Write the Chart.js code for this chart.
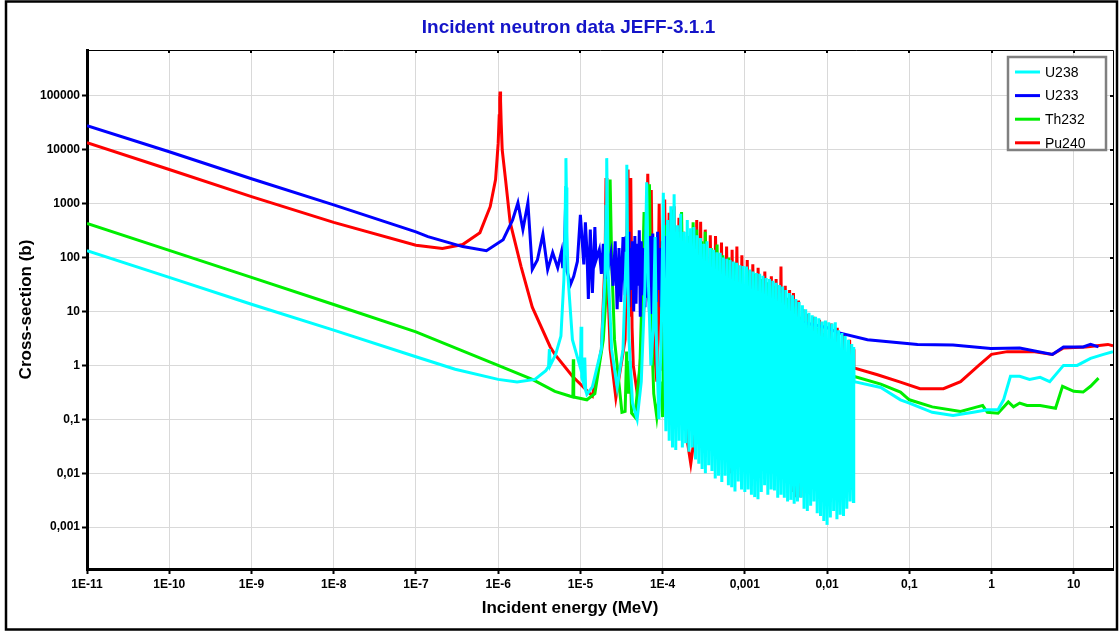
<!DOCTYPE html>
<html>
<head>
<meta charset="utf-8">
<script src="https://cdn.jsdelivr.net/npm/chart.js@4"></script>
<style>
  html, body { margin: 0; background: #fff; }
  #wrap { width: 1120px; height: 633px; position: relative; }
</style>
</head>
<body>
<div id="wrap"><canvas id="xs"></canvas></div>
<script>
// energies in MeV, cross-sections in barns
const seriesNames = ['U238', 'U233', 'Th232', 'Pu240'];

const u238Energy = [1e-11,1e-10,1e-9,1e-8,1e-7,3e-7,1e-6,1.7e-6,2.8e-6,3.8e-6,4.1e-6,4.2e-6,4.3e-6,5e-6,5.8e-6,6.3e-6,6.5e-6,6.6e-6,6.67e-6,6.75e-6,6.85e-6,7.1e-6,8e-6,
  1e-5,1.02e-5,1.04e-5,1.1e-5,1.13e-5,1.16e-5,1.2e-5,1.4e-5,1.8e-5,2.0e-5,2.05e-5,2.09e-5,2.13e-5,2.18e-5,2.4e-5,2.8e-5,3.3e-5,3.6e-5,3.67e-5,3.75e-5,3.9e-5,4.3e-5,4.9e-5,5.5e-5,6.1e-5,6.4e-5,6.7e-5,7.2e-5,7.7e-5,8.1e-5,8.4e-5,9.0e-5,9.6e-5,1.02e-4,1.06e-4,
  1.096e-4,1.148e-4,1.202e-4,1.259e-4,1.318e-4,1.380e-4,1.445e-4,1.514e-4,1.585e-4,1.660e-4,1.738e-4,1.820e-4,1.905e-4,1.995e-4,2.089e-4,2.188e-4,2.291e-4,2.399e-4,2.512e-4,2.630e-4,
  2.754e-4,2.884e-4,3.020e-4,3.162e-4,3.311e-4,3.467e-4,3.631e-4,3.802e-4,3.981e-4,4.169e-4,4.365e-4,4.571e-4,4.786e-4,5.012e-4,5.248e-4,5.495e-4,5.754e-4,6.026e-4,6.310e-4,6.607e-4,
  6.918e-4,7.244e-4,7.586e-4,7.943e-4,8.318e-4,8.710e-4,9.120e-4,9.550e-4,1.000e-3,1.047e-3,1.096e-3,1.148e-3,1.202e-3,1.259e-3,1.318e-3,1.380e-3,1.445e-3,1.514e-3,1.585e-3,1.660e-3,
  1.738e-3,1.820e-3,1.905e-3,1.995e-3,2.089e-3,2.188e-3,2.291e-3,2.399e-3,2.512e-3,2.630e-3,2.754e-3,2.884e-3,3.020e-3,3.162e-3,3.311e-3,3.467e-3,3.631e-3,3.802e-3,3.981e-3,4.169e-3,
  4.365e-3,4.571e-3,4.786e-3,5.012e-3,5.248e-3,5.495e-3,5.754e-3,6.026e-3,6.310e-3,6.607e-3,6.918e-3,7.244e-3,7.586e-3,7.943e-3,8.318e-3,8.710e-3,9.120e-3,9.550e-3,1.000e-2,1.047e-2,
  1.096e-2,1.148e-2,1.202e-2,1.259e-2,1.318e-2,1.380e-2,1.445e-2,1.514e-2,1.585e-2,1.660e-2,1.738e-2,1.820e-2,1.905e-2,1.995e-2,2.089e-2,2.11e-2,2.13e-2,
  4.5e-2,7.8e-2,0.1,0.19,0.34,0.6,0.89,1.2,1.4,1.7,2.2,2.9,3.9,5.1,7.5,11,16,23,30];
const u238Xs = [135,43,13.6,4.5,1.45,0.85,0.55,0.49,0.55,0.8,0.95,2.0,1.0,1.6,3.5,39,300,2000,7000,2000,300,40,3,
  0.9,5.2,0.6,0.45,1.4,0.35,0.29,0.4,2,50,900,7000,900,50,2,0.39,2,120,5300,100,3,0.2,0.1,0.5,30,2500,40,1,5,240,3,0.1,3,1600,2,
  0.06,500,0.04,900,0.03,1500,0.027,400,0.04,650,0.03,300,0.036,500,0.025,350,0.03,370,0.018,260,
  0.015,230,0.012,180,0.01,200,0.014,150,0.011,140,0.008,125,0.009,123,0.0069,100,0.009,95,0.006,90,
  0.0055,85,0.0046,80,0.007,72,0.005,70,0.0045,68,0.005,60,0.004,55,0.0036,52,0.0033,50,0.0045,46,
  0.006,42,0.004,40,0.005,37,0.0048,34,0.0035,31,0.004,29,0.0035,25,0.003,22,0.0032,20,0.0027,17,
  0.003,15,0.0035,13,0.0022,11,0.002,9.5,0.0025,8.5,0.003,8,0.0018,7.5,0.0016,6.5,0.0013,6.8,0.0011,6.3,
  0.0015,6,0.002,6.3,0.0014,4.5,0.0017,4,0.0016,3.5,0.0022,3,0.003,2.5,0.003,2.2,0.5,
  0.39,0.23,0.2,0.135,0.118,0.135,0.15,0.15,0.23,0.63,0.63,0.55,0.6,0.5,1.0,1.0,1.35,1.6,1.8];

const u233Energy = [1e-11,1e-10,1e-9,1e-8,1e-7,1.4e-7,3.7e-7,7.2e-7,1.15e-6,1.5e-6,1.74e-6,2.0e-6,2.3e-6,2.6e-6,3.0e-6,3.5e-6,4.0e-6,4.6e-6,5.3e-6,5.9e-6,6.1e-6,6.4e-6,6.6e-6,6.9e-6,7.6e-6,8.3e-6,9.2e-6,
  1.0e-5,1.1e-5,1.15e-5,1.2e-5,1.25e-5,1.32e-5,1.4e-5,1.5e-5,1.55e-5,1.7e-5,1.8e-5,1.9e-5,2.0e-5,2.1e-5,2.2e-5,2.35e-5,2.5e-5,2.65e-5,2.8e-5,2.95e-5,3.1e-5,3.3e-5,
  3.5e-5,3.6e-5,3.7e-5,3.8e-5,3.9e-5,4.0e-5,4.15e-5,4.3e-5,4.45e-5,4.6e-5,4.75e-5,4.9e-5,5.05e-5,5.2e-5,5.35e-5,5.5e-5,5.7e-5,5.9e-5,6.1e-5,6.3e-5,6.5e-5,6.7e-5,6.9e-5,7.1e-5,7.35e-5,7.6e-5,7.85e-5,
  8.1e-5,8.4e-5,8.7e-5,9.0e-5,9.3e-5,9.6e-5,9.9e-5,1.02e-4,1.06e-4,1.1e-4,1.14e-4,1.18e-4,1.22e-4,1.26e-4,1.3e-4,1.35e-4,1.4e-4,1.46e-4,
  1.6e-4,2.5e-4,3.3e-4,1e-3,3e-3,0.01,0.0133,0.031,0.126,0.34,0.98,2.2,5.5,7.5,13,16,20];
const u233Xs = [28000,9200,2900,950,300,245,160,134,215,500,1040,330,1040,60,90,270,60,124,65,130,64,130,900,55,32,45,85,
  620,75,450,140,17,330,22,370,90,140,50,180,40,180,70,120,30,200,11,150,15,240,
  20,250,30,300,12,150,25,200,10,250,14,180,30,320,8,200,20,150,12,330,18,200,10,250,9,280,20,
  180,15,300,25,150,12,200,30,250,10,150,25,180,20,120,25,100,25,
  28,23,17,11,7.5,5,4.1,3.0,2.45,2.4,2.05,2.1,1.6,2.2,2.2,2.45,2.2];

const th232Energy = [1e-11,1e-10,1e-9,1e-8,1e-7,1e-6,2.6e-6,4.9e-6,7.4e-6,8.1e-6,8.2e-6,8.3e-6,1.2e-5,1.5e-5,1.9e-5,2.2e-5,2.3e-5,2.4e-5,2.6e-5,3.2e-5,3.5e-5,3.65e-5,3.8e-5,4.0e-5,4.2e-5,4.6e-5,5.3e-5,5.7e-5,5.95e-5,6.2e-5,6.6e-5,6.92e-5,7.2e-5,7.8e-5,8.5e-5,9.5e-5,
  1.0e-4,1.08e-4,1.16e-4,1.3e-4,1.42e-4,1.55e-4,1.62e-4,1.7e-4,1.85e-4,2.0e-4,2.15e-4,2.35e-4,2.5e-4,2.6e-4,2.8e-4,3.0e-4,3.15e-4,3.3e-4,3.6e-4,3.9e-4,4.2e-4,4.6e-4,5.0e-4,5.4e-4,5.9e-4,6.4e-4,7.0e-4,7.6e-4,8.3e-4,9.0e-4,9.8e-4,
  1.07e-3,1.17e-3,1.28e-3,1.4e-3,1.55e-3,1.7e-3,1.85e-3,2.0e-3,2.2e-3,2.45e-3,2.7e-3,3.0e-3,3.3e-3,3.6e-3,4.0e-3,4.4e-3,4.9e-3,5.4e-3,6.0e-3,6.7e-3,7.5e-3,8.4e-3,9.4e-3,
  1.05e-2,1.18e-2,1.3e-2,1.45e-2,1.6e-2,1.8e-2,2.0e-2,2.1e-2,4.5e-2,7.8e-2,0.1,0.19,0.42,0.67,0.78,0.89,1.2,1.6,1.85,2.2,2.7,3.9,6,7.3,10,13,16,20];
const th232Xs = [430,136,43,13.5,4.2,1.0,0.55,0.33,0.27,0.26,1.3,0.26,0.23,0.3,3,120,2800,90,3,0.135,0.14,1.8,0.3,1.2,0.13,0.11,1,50,700,30,20,2300,10,0.3,0.11,0.5,
  0.11,400,0.15,770,0.12,300,0.2,700,0.1,250,0.08,450,0.06,330,0.05,200,0.04,300,0.03,150,0.03,175,0.02,110,0.02,100,0.015,80,0.02,60,0.015,
  55,0.015,50,0.012,40,0.012,35,0.01,30,0.01,22,0.01,18,0.008,12,0.008,8,0.008,6,0.007,5,0.007,4,
  0.006,3,0.01,2,0.02,1.2,0.2,0.63,0.45,0.32,0.23,0.17,0.14,0.17,0.18,0.135,0.13,0.21,0.17,0.2,0.18,0.18,0.16,0.41,0.33,0.32,0.41,0.58];

const pu240Energy = [1e-11,1e-10,1e-9,1e-8,1e-7,2.1e-7,3.7e-7,6e-7,8e-7,9.3e-7,1.0e-6,1.03e-6,1.045e-6,1.056e-6,1.07e-6,1.09e-6,1.12e-6,1.23e-6,1.4e-6,1.9e-6,2.6e-6,4.3e-6,4.9e-6,8e-6,1.4e-5,1.8e-5,2.0e-5,2.05e-5,2.1e-5,2.3e-5,2.7e-5,3.5e-5,3.8e-5,3.95e-5,4.1e-5,4.25e-5,4.4e-5,5e-5,6.3e-5,6.6e-5,6.9e-5,7.1e-5,7.28e-5,7.6e-5,8.5e-5,9.08e-5,9.5e-5,
  1.0e-4,1.06e-4,1.12e-4,1.2e-4,1.28e-4,1.38e-4,1.48e-4,1.58e-4,1.7e-4,1.8e-4,1.95e-4,2.2e-4,2.45e-4,2.6e-4,2.75e-4,2.9e-4,3.1e-4,3.3e-4,3.55e-4,3.8e-4,4.1e-4,4.4e-4,4.8e-4,5.2e-4,5.6e-4,6.0e-4,6.6e-4,7.0e-4,7.5e-4,8.0e-4,8.6e-4,9.2e-4,
  1.0e-3,1.07e-3,1.15e-3,1.25e-3,1.35e-3,1.45e-3,1.6e-3,1.75e-3,1.9e-3,2.1e-3,2.25e-3,2.4e-3,2.6e-3,2.75e-3,2.9e-3,3.1e-3,3.3e-3,3.5e-3,3.7e-3,3.9e-3,4.2e-3,4.5e-3,4.8e-3,5.1e-3,5.5e-3,5.9e-3,6.4e-3,6.9e-3,7.5e-3,8.1e-3,8.8e-3,9.5e-3,
  1.03e-2,1.12e-2,1.22e-2,1.33e-2,1.45e-2,1.58e-2,1.72e-2,1.88e-2,2.0e-2,2.08e-2,2.12e-2,4.1e-2,7.8e-2,0.135,0.26,0.42,0.7,1.0,1.55,3.2,5.5,7.5,14,26,30];
const pu240Xs = [13500,4300,1350,450,170,147,175,290,880,2800,13000,43000,91000,120000,80000,30000,10000,2800,450,68,12,2.2,1.6,0.63,0.27,2,100,3000,100,2,0.25,3,4300,8,3000,5,1,0.25,50,3600,30,20,1800,5,0.5,1000,3,
  0.8,1200,0.5,680,0.4,900,0.3,550,0.2,300,0.05,0.015,0.05,500,0.1,460,0.03,330,0.05,260,0.03,250,0.04,190,0.02,160,0.01,140,0.03,160,0.02,110,
  0.02,90,0.015,75,0.02,65,0.015,55,0.012,45,0.01,40,0.012,68,0.009,30,0.0075,25,0.0045,22,0.0036,16,0.0036,11,0.005,9,0.006,8,0.005,7,0.004,6.5,
  0.005,6,0.006,5,0.006,4,0.005,3,0.005,2,0.9,0.67,0.49,0.37,0.37,0.5,1.0,1.6,1.8,1.8,1.6,2.1,2.2,2.45,2.3];

const xTickValues = [1e-11,1e-10,1e-9,1e-8,1e-7,1e-6,1e-5,1e-4,1e-3,1e-2,1e-1,1,10];
const xTickLabels = ['1E-11','1E-10','1E-9','1E-8','1E-7','1E-6','1E-5','1E-4','0,001','0,01','0,1','1','10'];
const yTickValues = [1e-3,1e-2,1e-1,1,10,100,1000,10000,100000];
const yTickLabels = ['0,001','0,01','0,1','1','10','100','1000','10000','100000'];

const colors = ['#00ffff', '#0000ff', '#00ee00', '#ff0000'];
const FONT = '"Liberation Sans", Arial, sans-serif';

function pts(e, s) {
  return e.map((x, i) => ({x: x, y: s[i]}));
}
const seriesData = [pts(u238Energy, u238Xs), pts(u233Energy, u233Xs), pts(th232Energy, th232Xs), pts(pu240Energy, pu240Xs)];

// frame, top/right ticks, x title and legend box
const decor = {
  id: 'decor',
  afterDraw(chart) {
    const ctx = chart.ctx;
    const a = chart.chartArea;
    const xs = chart.scales.x, ys = chart.scales.y;
    ctx.save();
    ctx.strokeStyle = '#000';
    ctx.lineWidth = 1;
    ctx.beginPath();
    ctx.moveTo(a.left, a.top + 0.5); ctx.lineTo(a.right + 0.5, a.top + 0.5); ctx.lineTo(a.right + 0.5, a.bottom);
    ctx.stroke();
    ctx.lineWidth = 2;
    ctx.beginPath();
    xTickValues.forEach(v => {
      const px = Math.round(xs.getPixelForValue(v));
      ctx.moveTo(px, a.top); ctx.lineTo(px, a.top + 3);
    });
    yTickValues.forEach(v => {
      const py = Math.round(ys.getPixelForValue(v));
      ctx.moveTo(a.right, py); ctx.lineTo(a.right - 3, py);
    });
    ctx.stroke();

    ctx.fillStyle = '#000';
    ctx.font = 'bold 17px ' + FONT;
    ctx.textAlign = 'center';
    ctx.textBaseline = 'middle';
    ctx.fillText('Incident energy (MeV)', 570, 608);

    // legend
    const bx = 1008, by = 57, bw = 98, bh = 93;
    ctx.fillStyle = '#fff';
    ctx.fillRect(bx, by, bw, bh);
    ctx.strokeStyle = '#808080';
    ctx.lineWidth = 2.5;
    ctx.strokeRect(bx, by, bw, bh);
    ctx.font = '14px ' + FONT;
    ctx.textAlign = 'left';
    seriesNames.forEach((n, i) => {
      const ly = 72 + i * 23.6;
      ctx.strokeStyle = colors[i];
      ctx.lineWidth = 3;
      ctx.beginPath(); ctx.moveTo(1015, ly); ctx.lineTo(1040, ly); ctx.stroke();
      ctx.fillStyle = '#000';
      ctx.fillText(n, 1045, ly + 1);
    });

    // outer frame
    ctx.strokeStyle = '#000';
    ctx.lineWidth = 2.5;
    ctx.strokeRect(6, 1.5, 1111, 628);
    ctx.restore();
  }
};

const ctx = document.getElementById('xs').getContext('2d');
const myChart = new Chart(ctx, {
  type: 'line',
  data: {
    datasets: seriesNames.map((n, i) => ({
      label: n,
      data: seriesData[i],
      borderColor: colors[i],
      backgroundColor: colors[i],
      borderWidth: 3,
      pointRadius: 0,
      tension: 0,
      fill: false
    }))
  },
  options: {
    animation: false,
    responsive: true,
    maintainAspectRatio: false,
    devicePixelRatio: 1,
    layout: { padding: { left: 24, right: 7, top: 0, bottom: 0 } },
    plugins: {
      legend: { display: false },
      tooltip: { enabled: false },
      title: {
        display: true,
        text: 'Incident neutron data JEFF-3.1.1',
        color: '#1414c8',
        font: { family: FONT, size: 19, weight: 'bold' },
        padding: { top: 16.6, bottom: 10.6 }
      }
    },
    scales: {
      x: {
        type: 'logarithmic',
        min: 1e-11,
        max: 30,
        afterBuildTicks: s => { s.ticks = xTickValues.map(v => ({value: v})); },
        afterFit: s => { s.height = 64; },
        ticks: {
          autoSkip: false,
          maxRotation: 0,
          padding: 3,
          color: '#000',
          font: { family: FONT, size: 12, weight: 'bold' },
          callback: (v, i) => xTickLabels[i]
        },
        grid: { color: '#d9d9d9', tickColor: '#000', tickLength: 5, tickWidth: 2 },
        border: { color: '#000', width: 3 }
      },
      y: {
        type: 'logarithmic',
        min: 1.67e-4,
        max: 7.1e5,
        afterBuildTicks: s => { s.ticks = yTickValues.map(v => ({value: v})); },
        afterFit: s => { s.width = 63; },
        ticks: {
          autoSkip: false,
          padding: 2,
          color: '#000',
          font: { family: FONT, size: 12, weight: 'bold' },
          callback: (v, i) => yTickLabels[i]
        },
        title: {
          display: true,
          text: 'Cross-section (b)',
          color: '#000',
          font: { family: FONT, size: 17, weight: 'bold', lineHeight: 0.25 },
          padding: { top: 0, bottom: 0 }
        },
        grid: { color: '#d9d9d9', tickColor: '#000', tickLength: 5, tickWidth: 2 },
        border: { color: '#000', width: 3 }
      }
    }
  },
  plugins: [decor]
});
</script>
</body>
</html>
